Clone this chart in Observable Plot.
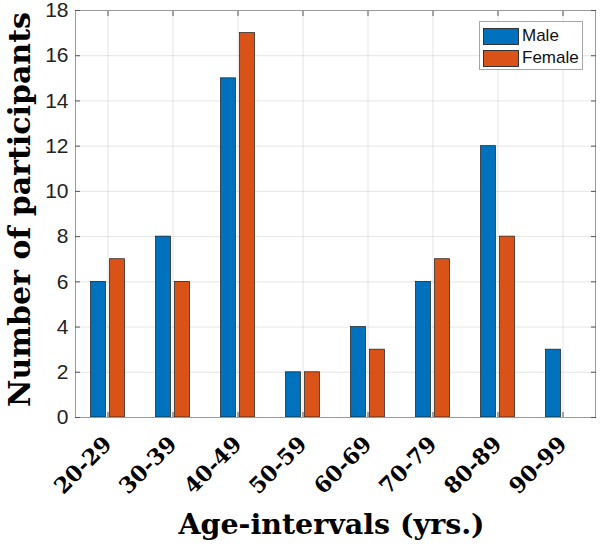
<!DOCTYPE html>
<html>
<head>
<meta charset="utf-8">
<script src="https://cdn.jsdelivr.net/npm/d3@7"></script>
<script src="https://cdn.jsdelivr.net/npm/@observablehq/plot@0.6"></script>
<style>
  body { margin: 0; background: #fff; }
  #wrap { position: relative; width: 600px; height: 547px; }
  .legend { position: absolute; left: 479px; top: 21px; width: 104px; height: 49px; box-sizing: border-box;
            border: 1px solid #a6a6a6; background: #fff; font-family: "Liberation Sans", Arial, sans-serif; font-size: 17px; color: #111; }
  .legend .row { position: absolute; left: 3px; height: 18px; display: flex; align-items: center; }
  .legend .sw { width: 36px; height: 17px; box-sizing: border-box; border: 1px solid #333; margin-right: 3px; }
</style>
</head>
<body>
<div id="wrap"></div>
<script>
const ages = ["20-29", "30-39", "40-49", "50-59", "60-69", "70-79", "80-89", "90-99"];
const male = [6, 8, 15, 2, 4, 6, 12, 3];
const female = [7, 6, 17, 2, 3, 7, 8, 0];
const series = ["Male", "Female"];
const colors = ["#0072BD", "#D95319"];
const yTicks = [0, 2, 4, 6, 8, 10, 12, 14, 16, 18];
const xTitle = "Age-intervals (yrs.)";
const yTitle = "Number of participants";

const table = ages.map((a, i) => ({age: a, male: male[i], female: female[i]}));
const serif = "'DejaVu Serif', serif";
const sans = "'Liberation Sans', Arial, sans-serif";

const chart = Plot.plot({
  width: 600,
  height: 547,
  marginLeft: 75,
  marginRight: 5,
  marginTop: 10,
  marginBottom: 130,
  x: {type: "band", domain: ages, padding: 0},
  y: {domain: [0, 18]},
  marks: [
    Plot.gridX(ages, {stroke: "#000", strokeOpacity: 0.1}),
    Plot.gridY(yTicks, {stroke: "#000", strokeOpacity: 0.1}),
    Plot.barY(table, {x: "age", y: "male", fill: colors[0], stroke: "#1a1a1a", strokeWidth: 0.7, insetLeft: 15.5, insetRight: 34.5}),
    Plot.barY(table, {x: "age", y: "female", fill: colors[1], stroke: "#1a1a1a", strokeWidth: 0.7, insetLeft: 34.5, insetRight: 15.5}),
    Plot.frame({stroke: "#9a9a9a"}),
    Plot.axisY(yTicks, {tickSize: -5, tickPadding: 12, fontSize: 21, fontFamily: sans, fill: "#222", stroke: "#555", label: null}),
    Plot.axisY(yTicks, {anchor: "right", tickSize: -5, tickFormat: () => "", stroke: "#555", label: null}),
    Plot.axisX(ages, {tickSize: -5, tickPadding: 28, tickRotate: -45, fontSize: 22, fontFamily: serif, fontWeight: "bold", fill: "#000", stroke: "#555", label: null}),
    Plot.axisX(ages, {anchor: "top", tickSize: -5, tickFormat: () => "", stroke: "#555", label: null}),
    Plot.text([xTitle], {text: d => d, frameAnchor: "bottom", lineAnchor: "bottom", dy: 116, dx: -4, fontSize: 28.5, fontWeight: "bold", fontFamily: serif, fill: "#000"}),
    Plot.text([yTitle], {text: d => d, frameAnchor: "left", textAnchor: "middle", lineAnchor: "bottom", rotate: -90, dx: -46, dy: -4.5, fontSize: 30, fontWeight: "bold", fontFamily: serif, fill: "#000"})
  ]
});

// enforce y tick label font
d3.select(chart).selectAll('g[aria-label="y-axis tick label"]').each(function() {
  d3.select(this).attr("font-size", 21).style("font-size", "21px").attr("font-family", sans);
  d3.select(this).selectAll("text").style("font-size", "21px");
});

const wrap = document.getElementById("wrap");
wrap.appendChild(chart);

const legend = document.createElement("div");
legend.className = "legend";
series.forEach((s, i) => {
  const row = document.createElement("div");
  row.className = "row";
  row.style.top = (5 + i * 22) + "px";
  const sw = document.createElement("div");
  sw.className = "sw";
  sw.style.background = colors[i];
  const lab = document.createElement("span");
  lab.textContent = s;
  row.appendChild(sw);
  row.appendChild(lab);
  legend.appendChild(row);
});
wrap.appendChild(legend);
</script>
</body>
</html>
